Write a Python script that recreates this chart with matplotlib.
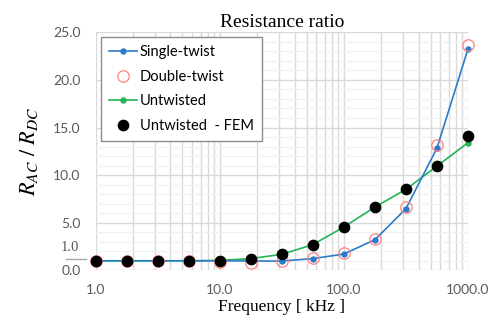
import matplotlib
matplotlib.use("Agg")
import matplotlib.pyplot as plt
import matplotlib.transforms as mtransforms
from matplotlib.ticker import FixedLocator, FuncFormatter, NullFormatter

freq_khz = [1.0, 1.78, 3.16, 5.62, 10.0, 17.8, 31.6, 56.2, 100.0, 178.0, 316.0, 562.0, 1000.0]
single_twist = [1.0, 1.0, 1.0, 1.0, 1.0, 0.98, 0.97, 1.23, 1.71, 3.22, 6.47, 12.84, 23.26]
double_twist = [1.0, 1.0, 1.0, 0.98, 0.92, 0.82, 0.95, 1.26, 1.78, 3.25, 6.65, 13.2, 23.7]
untwisted = [1.0, 1.0, 1.0, 1.0, 1.04, 1.23, 1.68, 2.7, 4.55, 6.65, 8.5, 10.95, 13.4]
untwisted_fem = [1.0, 1.0, 1.0, 1.0, 1.02, 1.23, 1.68, 2.7, 4.55, 6.65, 8.5, 10.95, 14.06]
x_ticks = [1.0, 10.0, 100.0, 1000.0]
y_ticks = [0.0, 5.0, 10.0, 15.0, 20.0, 25.0]

plt.rcParams['font.family'] = ['Lato', 'DejaVu Sans']
plt.rcParams['mathtext.fontset'] = 'stix'

fig = plt.figure(figsize=(4.95, 3.24), dpi=100)
ax = fig.add_axes([0.1933, 0.1657, 0.9455 - 0.1933, 0.9003 - 0.1657])

blue = '#2a7bc9'
green = '#22b455'
red = '#ff8080'

ax.plot(freq_khz, single_twist, color=blue, lw=1.2, marker='o', ms=3.6,
        label='Single-twist', zorder=3, clip_on=False)
ax.plot(freq_khz, double_twist, ls='none', marker='o', ms=8.2, mfc='none',
        mec=red, mew=0.9, label='Double-twist', zorder=4, clip_on=False)
ax.plot(freq_khz, untwisted, color=green, lw=1.2, marker='o', ms=3.6,
        label='Untwisted', zorder=2, clip_on=False)
ax.plot(freq_khz, untwisted_fem, ls='none', marker='o', ms=7.4, color='black',
        label='Untwisted  - FEM', zorder=5, clip_on=False)

ax.set_xscale('log')
ax.set_xlim(1.0, 1000.0)
ax.set_ylim(0, 25)
ax.xaxis.set_major_locator(FixedLocator(x_ticks))
ax.xaxis.set_minor_locator(FixedLocator([m * d for d in [1, 10, 100] for m in range(2, 10)]))
ax.xaxis.set_major_formatter(FuncFormatter(lambda v, p: f"{v:.1f}"))
ax.xaxis.set_minor_formatter(NullFormatter())
ax.yaxis.set_major_locator(FixedLocator(y_ticks))
ax.yaxis.set_minor_locator(FixedLocator([v for v in range(1, 25) if v % 5]))
ax.yaxis.set_major_formatter(FuncFormatter(lambda v, p: f"{v:.1f}"))

ax.grid(which='major', axis='both', color='#d9d9d9', lw=1.0, zorder=0)
ax.grid(which='minor', axis='x', color='#d9d9d9', lw=1.0, zorder=0)
ax.grid(which='minor', axis='y', color='#f0f0f0', lw=0.8, zorder=0)
ax.set_axisbelow(True)
for s in ax.spines.values():
    s.set_visible(False)
ax.tick_params(which='both', length=0)
ax.tick_params(axis='y', pad=11, labelsize=10, labelcolor='#595959')
ax.tick_params(axis='x', pad=10, labelsize=10, labelcolor='#595959')

ax.set_title('Resistance ratio', family='Liberation Serif', fontsize=14, pad=4)
ax.set_xlabel('Frequency [ kHz ]', family='Liberation Serif', fontsize=12.5, labelpad=2)
ax.set_ylabel(r'$R_{AC}\ /\ R_{DC}$', fontsize=16, labelpad=9)

# extra "1.0" annotation on the left of the axis
trans = mtransforms.blended_transform_factory(ax.transAxes, ax.transData)
ax.plot([-0.08, -0.026], [1.19, 1.19], color='#a6a6a6', lw=1.0, transform=trans, clip_on=False)
ax.text(-0.069, 2.35, '1.0', transform=trans, ha='center', va='center',
        family='Liberation Serif', fontsize=10.5, color='#595959')

leg = ax.legend(loc='upper left', bbox_to_anchor=(0.0142, 0.979), fontsize=10.5,
                fancybox=False, framealpha=1, edgecolor='#8c8c8c', borderpad=0.55,
                labelspacing=0.72, handlelength=1.9, handletextpad=0.2, borderaxespad=0)
leg.get_frame().set_linewidth(1.0)

fig.savefig('out.png', dpi=100)
